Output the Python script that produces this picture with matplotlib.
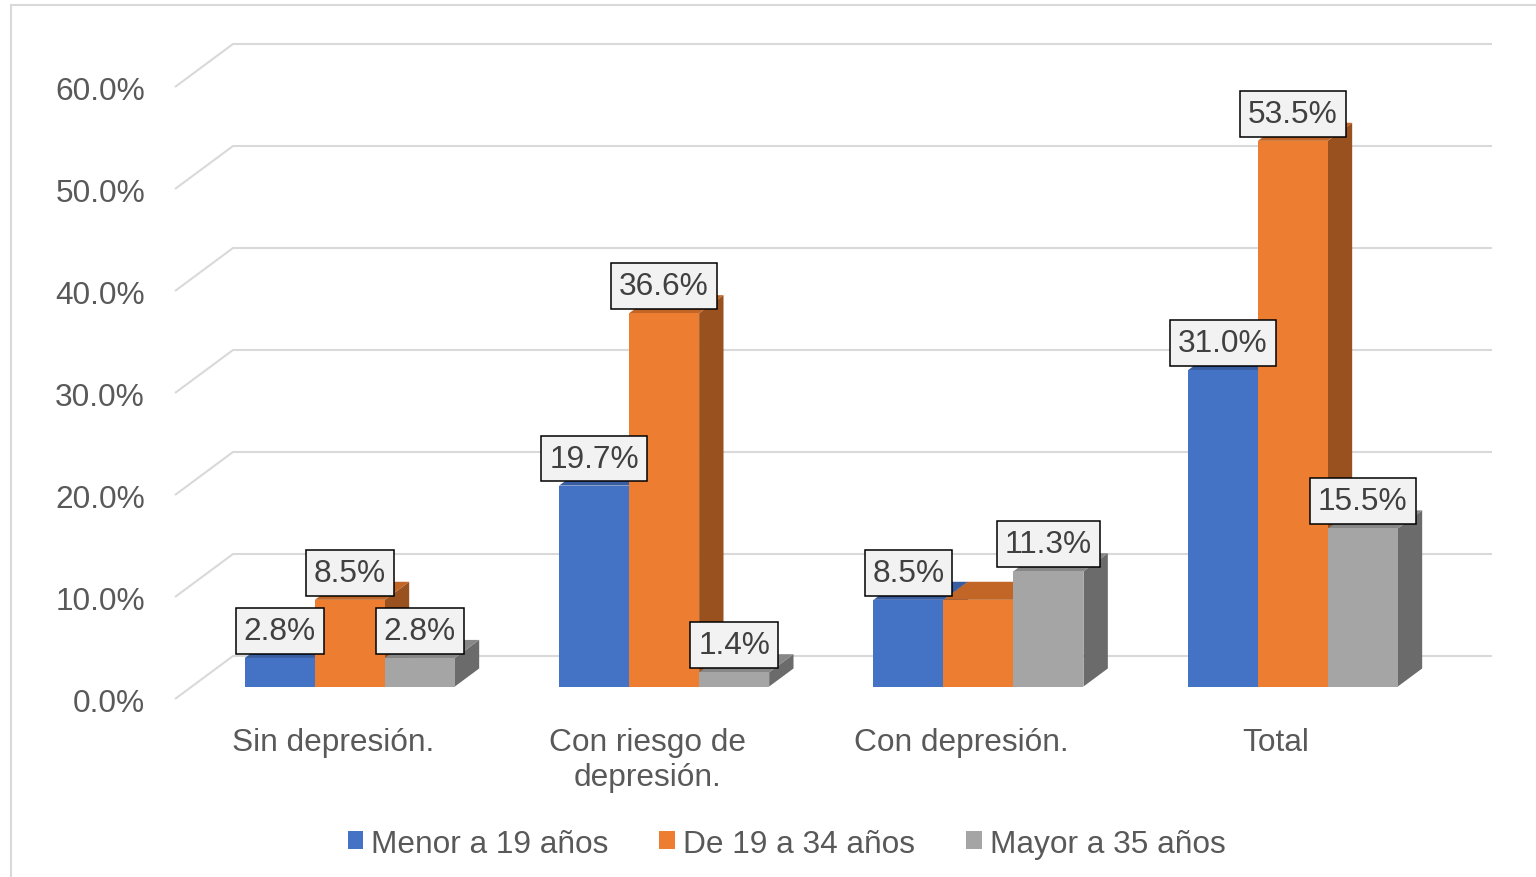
import matplotlib.pyplot as plt
from matplotlib.patches import Polygon, Rectangle, Patch
from matplotlib.colors import to_rgb

plt.rcParams['font.family'] = ['Liberation Sans', 'DejaVu Sans']

categorias = ['Sin depresión.', 'Con riesgo de\ndepresión.', 'Con depresión.', 'Total']
series = ['Menor a 19 años', 'De 19 a 34 años', 'Mayor a 35 años']
menor_19 = [2.8, 19.7, 8.5, 31.0]
de_19_34 = [8.5, 36.6, 8.5, 53.5]
mayor_35 = [2.8, 1.4, 11.3, 15.5]
yticks = [0, 10, 20, 30, 40, 50, 60]
# en el original la etiqueta naranja de "Con depresión." queda oculta
mostrar = [[True, True, True, True],
           [True, True, False, True],
           [True, True, True, True]]

colores = ['#4472c4', '#ed7d31', '#a5a5a5']
valores = [menor_19, de_19_34, mayor_35]

# escala: pixeles por categoria y por punto porcentual
W, H = 1536, 878
PX_X = 314.33
PX_Y = 10.2
X0, Y0 = 333, 700

fig = plt.figure(figsize=(W / 100, H / 100), dpi=100)
ax = fig.add_axes([0, 0, 1, 1])
ax.set_xlim(-X0 / PX_X, (W - X0) / PX_X)
ax.set_ylim(-(H - Y0) / PX_Y, Y0 / PX_Y)
ax.axis('off')

# profundidad (efecto 3D)
DX = 58 / PX_X
DY = 43 / PX_Y
t0, t1 = 0.29, 0.71
ancho = 70 / PX_X
g_izq = (175 - X0) / PX_X
g_der = (1492 - X0) / PX_X

txt = '#595959'
fs = 22.8

# cuadricula y etiquetas del eje
for v in yticks:
    ax.plot([g_izq, g_izq + DX, g_der], [v, v + DY, v + DY], color='#d9d9d9',
            lw=1.5, zorder=1, solid_capstyle='butt')
    ax.text(g_izq - 30 / PX_X, v - 4 / PX_Y, f'{v:.1f}%', ha='right', va='center',
            fontsize=fs, color=txt)


def oscurecer(c, f):
    r, g, b = to_rgb(c)
    return (r * f, g * f, b * f)


ddx = (t1 - t0) * DX
ddy = (t1 - t0) * DY
yb = t0 * DY
z = 2
for i in range(len(categorias)):
    for j in range(len(series)):
        h = valores[j][i]
        xl = i + (j - 1.5) * ancho + t0 * DX
        c = colores[j]
        frente = [(xl, yb), (xl + ancho, yb), (xl + ancho, yb + h), (xl, yb + h)]
        arriba = [(xl, yb + h), (xl + ancho, yb + h),
                  (xl + ancho + ddx, yb + h + ddy), (xl + ddx, yb + h + ddy)]
        lado = [(xl + ancho, yb), (xl + ancho + ddx, yb + ddy),
                (xl + ancho + ddx, yb + h + ddy), (xl + ancho, yb + h)]
        ax.add_patch(Polygon(lado, closed=True, fc=oscurecer(c, 0.65), ec='none', zorder=z))
        ax.add_patch(Polygon(arriba, closed=True, fc=oscurecer(c, 0.82), ec='none', zorder=z))
        ax.add_patch(Polygon(frente, closed=True, fc=c, ec='none', zorder=z))
        z += 0.01
        if mostrar[j][i]:
            ax.annotate(f'{h:.1f}%', xy=(xl + ancho / 2, yb + h), xytext=(0, 19.5),
                        textcoords='offset points', ha='center', va='center',
                        fontsize=fs, color='#404040', zorder=10,
                        bbox=dict(boxstyle='square,pad=0.25', fc='#f2f2f2', ec='black', lw=1.1))

# etiquetas de categoria
for i, cat in enumerate(categorias):
    ax.text(i, -(728 - Y0) / PX_Y, cat, ha='center', va='top', fontsize=fs,
            color=txt, linespacing=1.2)

handles = [Patch(fc=c, ec='none') for c in colores]
fig.legend(handles, series, loc='center', bbox_to_anchor=(0.512, 0.038), ncol=3,
           frameon=False, handlelength=0.5, handleheight=0.5, handletextpad=0.25,
           columnspacing=1.6, fontsize=fs, labelcolor=txt)

fig.add_artist(Rectangle((10.5 / W, -0.01), 1.0, 1 - 5.5 / H + 0.01,
                         transform=fig.transFigure, fill=False, ec='#d9d9d9', lw=1.5))

fig.savefig('out.png', dpi=100)
